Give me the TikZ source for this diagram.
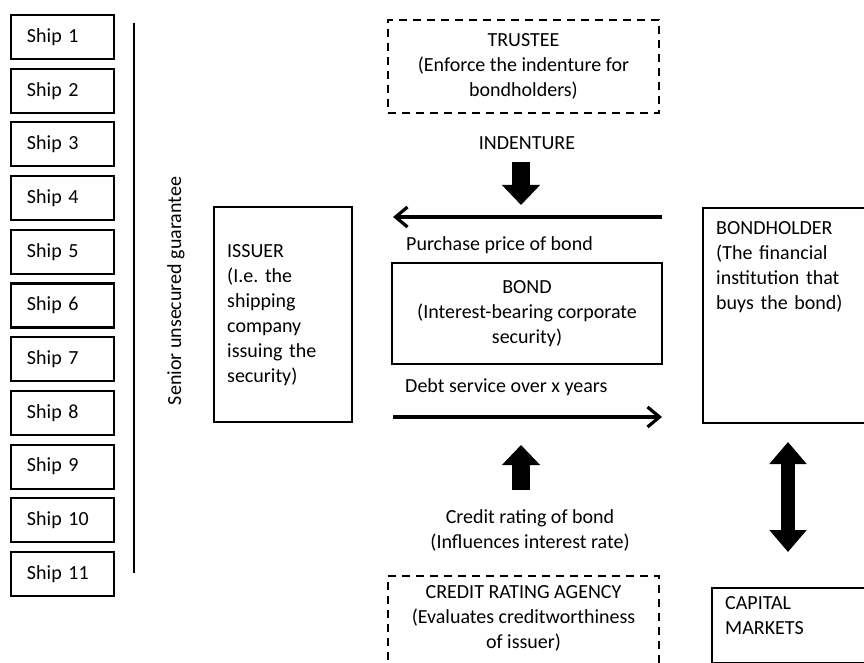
\documentclass[tikz,border=0pt]{standalone}
\usepackage{fontspec}
\setmainfont{Carlito}
\usetikzlibrary{arrows.meta}
\frenchspacing
\begin{document}
\begin{tikzpicture}[x=1pt,y=-1pt,
  font=\fontsize{20}{25}\selectfont,
  box/.style={draw, line width=2.2pt, inner sep=0pt},
  shipbox/.style={box, minimum height=44pt, text width=71pt, inner xsep=16pt, align=left},
  dashbox/.style={draw, line width=2.2pt, dash pattern=on 8pt off 6pt},
  flow/.style={line width=3.2pt, {Straight Barb[length=12pt,width=20pt]}-},
  block/.style={line width=18pt, -{Triangle[length=20pt,width=37pt]}},
  dblock/.style={line width=14pt, {Triangle[length=22pt,width=36pt]}-{Triangle[length=22pt,width=36pt]}}
]
\useasboundingbox (0,0) rectangle (864,663);
\begin{scope}
\clip (0,0) rectangle (864,663);
% ships
\foreach \i in {1,...,11}{
  \node[shipbox] (ship\i) at (62.5,{37+53.7*(\i-1)}) {Ship~\i};
}
\draw[line width=2.2pt] (134,23) coordinate (gtop) -- (134,573) coordinate (gbot);
\node[rotate=90] (guar) at (176,291) {Senior unsecured guarantee};

% issuer
\node[box, minimum width=138pt, minimum height=215pt] (issuer) at (283,314.5) {};
\node[anchor=north west, text width=120pt, align=left, inner sep=0pt] (issuertxt) at (227,244)
  {ISSUER\\(I.e. the\\shipping\\company\\issuing the\\security)};

% trustee
\node[dashbox, minimum width=271pt, minimum height=93pt, align=center] (trustee) at (523.5,66.5)
  {TRUSTEE\\(Enforce the indenture for\\bondholders)};
\node (indenture) at (527,143) {INDENTURE};

% bond
\node[box, minimum width=270pt, minimum height=101pt, align=center] (bond) at (527,313.5)
  {BOND\\(Interest-bearing corporate\\security)};

% flows
\coordinate (purL) at (393,217);
\coordinate (purR) at (662,217);
\draw[flow] (purL) -- (purR);
\node[anchor=west, inner sep=0pt] (purtxt) at (406,245) {Purchase price of bond};
\coordinate (debtL) at (393,417);
\coordinate (debtR) at (662,417);
\draw[flow] (debtR) -- (debtL);
\node[anchor=west, inner sep=0pt] (debttxt) at (405,387) {Debt service over x years};

% block arrows
\coordinate (indA) at (521,162);
\coordinate (indB) at (521,205);
\draw[block] (indA) -- (indB);
\coordinate (crA) at (521,490);
\coordinate (crB) at (521,445);
\draw[block] (crA) -- (crB);
\node[align=center] (crtxt) at (530,530) {Credit rating of bond\\(Influences interest rate)};

% credit agency
\node[dashbox, minimum width=271pt, minimum height=110pt, align=center, anchor=north] (agency) at (523.5,575) {};
\node[align=center, anchor=north] (agencytxt) at (523.5,582)
  {CREDIT RATING AGENCY\\(Evaluates creditworthiness\\of issuer)};

% bondholder
\node[box, minimum width=180pt, minimum height=215pt, anchor=north west] (holder) at (702,207) {};
\node[anchor=north west, text width=150pt, align=left, inner sep=0pt] (holdertxt) at (716,221)
  {BONDHOLDER\\(The financial\\institution that\\buys the bond)};

% capital markets
\node[box, minimum width=170pt, minimum height=75pt, anchor=north west] (capital) at (711,587) {};
\node[anchor=north west, text width=140pt, align=left, inner sep=0pt] (capitaltxt) at (725,596)
  {CAPITAL\\MARKETS};

\coordinate (dblA) at (788,442);
\coordinate (dblB) at (788,552);
\draw[dblock] (dblA) -- (dblB);
\end{scope}
\end{tikzpicture}
\end{document}
